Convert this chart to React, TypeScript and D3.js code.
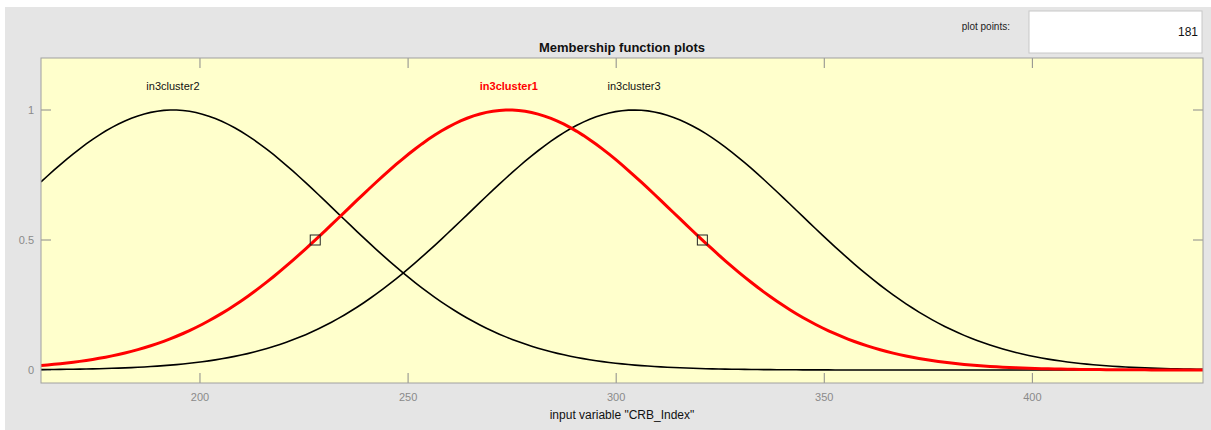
import React from "react";
import * as d3 from "d3";

// Membership functions (gaussmf parameters)
const mfNames = ["in3cluster1", "in3cluster2", "in3cluster3"];
const mfCenters = [274.2, 193.5, 304.3];
const mfSigmas = [39.5, 39.4, 39.5];
const selectedIndex = 0;
const xRange = [161.8, 441.0];
const yRange = [-0.05, 1.2];
const xTicks = [200, 250, 300, 350, 400];
const yTicks = [0, 0.5, 1];
const plotPoints = 181;

const W = 1211;
const H = 430;
const M = { left: 41, top: 58, right: 1203, bottom: 383 };
const FONT = "'Liberation Sans', Arial, Helvetica, sans-serif";

export default function App() {
  const x = d3.scaleLinear().domain(xRange).range([M.left, M.right]);
  const y = d3.scaleLinear().domain(yRange).range([M.bottom, M.top]);
  const xs = d3.range(plotPoints).map(
    (i) => xRange[0] + ((xRange[1] - xRange[0]) * i) / (plotPoints - 1)
  );
  const gauss = (v: number, c: number, s: number) =>
    Math.exp(-((v - c) * (v - c)) / (2 * s * s));
  const line = d3
    .line<[number, number]>()
    .x((d) => x(d[0]))
    .y((d) => y(d[1]));

  const order = [1, 2, 0];
  const tickColor = "#8a8a8a";
  const selC = mfCenters[selectedIndex];
  const selS = mfSigmas[selectedIndex];
  const half = selS * Math.sqrt(2 * Math.log(2));
  const squares = [selC - half, selC + half];

  return (
    <svg
      width={W}
      height={H}
      style={{ position: "absolute", left: 0, top: 0, fontFamily: FONT }}
    >
      <rect x={0} y={0} width={W} height={H} fill="#ffffff" />
      <rect x={5} y={7} width={W - 5} height={H - 7} fill="#e5e5e5" />
      <rect x={1029} y={11} width={173} height={42} fill="#ffffff" stroke="#c8c8c8" />
      <text x={1010} y={30} fontSize={10} textAnchor="end" fill="#222">
        plot points:
      </text>
      <text x={1198} y={36} fontSize={12} textAnchor="end" fill="#111">
        {plotPoints}
      </text>
      <text
        x={(M.left + M.right) / 2}
        y={52}
        fontSize={13}
        fontWeight="bold"
        textAnchor="middle"
        fill="#111"
      >
        Membership function plots
      </text>
      <rect
        x={M.left}
        y={M.top}
        width={M.right - M.left}
        height={M.bottom - M.top}
        fill="#ffffcc"
      />
      {xTicks.map((t) => (
        <g key={"xt" + t}>
          <line x1={x(t)} x2={x(t)} y1={M.bottom} y2={M.bottom - 10} stroke={tickColor} />
          <line x1={x(t)} x2={x(t)} y1={M.top} y2={M.top + 10} stroke={tickColor} />
          <text x={x(t)} y={401} fontSize={11} textAnchor="middle" fill={tickColor}>
            {t}
          </text>
        </g>
      ))}
      {yTicks.map((t) => (
        <g key={"yt" + t}>
          <line x1={M.left} x2={M.left + 10} y1={y(t)} y2={y(t)} stroke={tickColor} />
          <line x1={M.right} x2={M.right - 10} y1={y(t)} y2={y(t)} stroke={tickColor} />
          <text x={34} y={y(t) + 4} fontSize={11} textAnchor="end" fill={tickColor}>
            {t}
          </text>
        </g>
      ))}
      <clipPath id="clip">
        <rect x={M.left} y={M.top} width={M.right - M.left} height={M.bottom - M.top} />
      </clipPath>
      <g clipPath="url(#clip)">
        {order.map((i) => {
          const pts = xs.map((v) => [v, gauss(v, mfCenters[i], mfSigmas[i])] as [number, number]);
          const sel = i === selectedIndex;
          return (
            <path
              key={mfNames[i]}
              d={line(pts) || ""}
              fill="none"
              stroke={sel ? "#ff0000" : "#000000"}
              strokeWidth={sel ? 3 : 1.6}
            />
          );
        })}
      </g>
      {squares.map((v, k) => (
        <rect
          key={"sq" + k}
          x={x(v) - 5}
          y={y(0.5) - 5}
          width={10}
          height={10}
          fill="none"
          stroke="#222"
          strokeWidth={1}
        />
      ))}
      {mfNames.map((n, i) => (
        <text
          key={"lbl" + n}
          x={x(mfCenters[i])}
          y={90}
          fontSize={11}
          textAnchor="middle"
          fontWeight={i === selectedIndex ? "bold" : "normal"}
          fill={i === selectedIndex ? "#ff0000" : "#111"}
        >
          {n}
        </text>
      ))}
      <rect
        x={M.left}
        y={M.top}
        width={M.right - M.left}
        height={M.bottom - M.top}
        fill="none"
        stroke="#a0a0a0"
      />
      <text x={(M.left + M.right) / 2} y={419} fontSize={12} textAnchor="middle" fill="#111">
        input variable "CRB_Index"
      </text>
    </svg>
  );
}
